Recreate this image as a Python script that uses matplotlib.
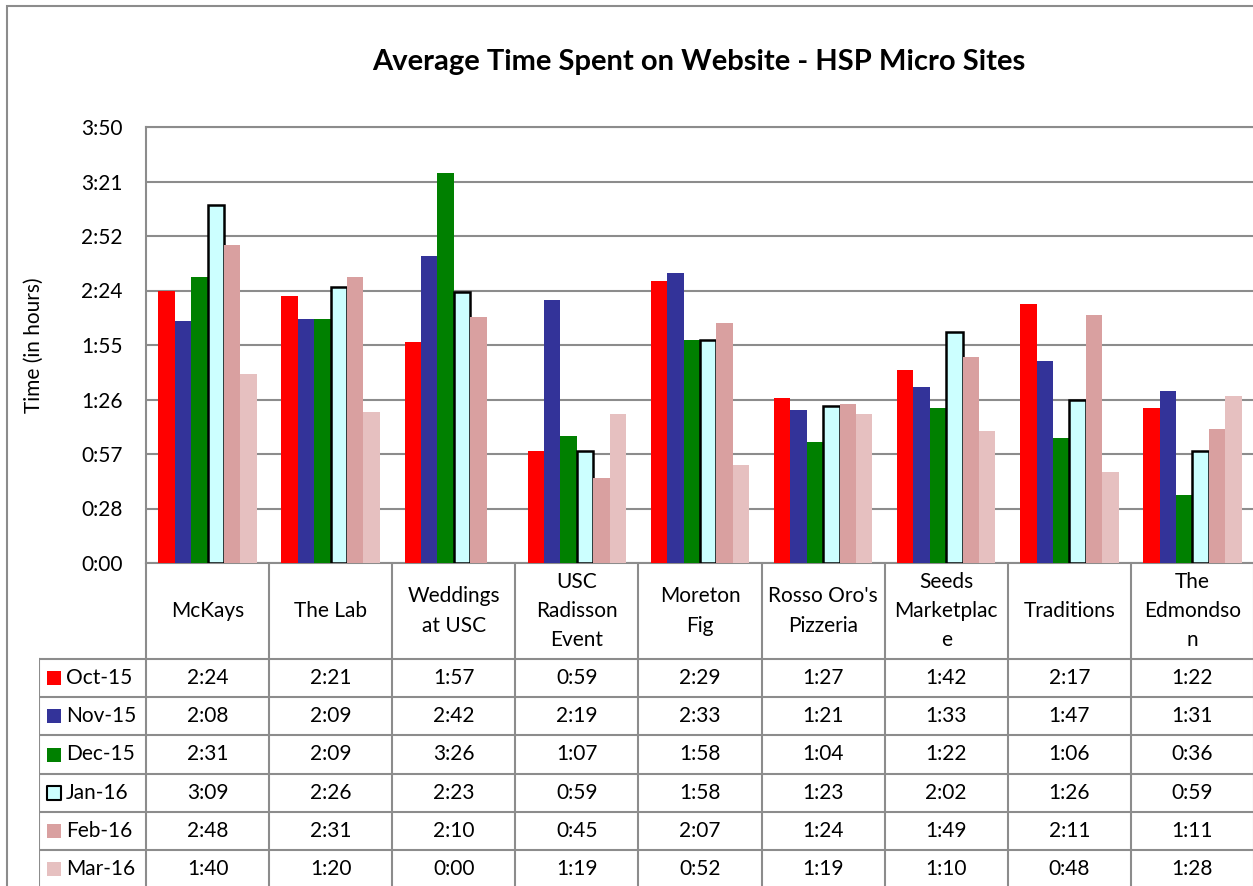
import matplotlib
matplotlib.use('Agg')
import matplotlib.pyplot as plt
from matplotlib.patches import Rectangle
import numpy as np

plt.rcParams['font.family'] = ['Lato', 'DejaVu Sans']

sites = ["McKays", "The Lab", "Weddings\nat USC", "USC\nRadisson\nEvent", "Moreton\nFig",
         "Rosso Oro's\nPizzeria", "Seeds\nMarketplac\ne", "Traditions", "The\nEdmondso\nn"]
months = ["Oct-15", "Nov-15", "Dec-15", "Jan-16", "Feb-16", "Mar-16"]

oct15 = ["2:24", "2:21", "1:57", "0:59", "2:29", "1:27", "1:42", "2:17", "1:22"]
nov15 = ["2:08", "2:09", "2:42", "2:19", "2:33", "1:21", "1:33", "1:47", "1:31"]
dec15 = ["2:31", "2:09", "3:26", "1:07", "1:58", "1:04", "1:22", "1:06", "0:36"]
jan16 = ["3:09", "2:26", "2:23", "0:59", "1:58", "1:23", "2:02", "1:26", "0:59"]
feb16 = ["2:48", "2:31", "2:10", "0:45", "2:07", "1:24", "1:49", "2:11", "1:11"]
mar16 = ["1:40", "1:20", "0:00", "1:19", "0:52", "1:19", "1:10", "0:48", "1:28"]
series = [oct15, nov15, dec15, jan16, feb16, mar16]

colors = ["#FF0000", "#333399", "#008000", "#CCFFFF", "#D9A0A0", "#E6C0C0"]
edges = [None, None, None, "black", None, None]


def to_min(s):
    h, m = s.split(":")
    return int(h) * 60 + int(m)


def fmt(v):
    v = v + 1e-6
    return "%d:%02d" % (int(v // 60), int(v % 60))


W, H = 1253, 886
fig = plt.figure(figsize=(W / 100, H / 100), dpi=100)
grid_c = "#8C8C8C"
fs = 15

# outer chart border (left and top edges visible)
fig.add_artist(Rectangle((7 / W, -0.5), 2, 0.5 + 1 - 6 / H, transform=fig.transFigure,
                         fill=False, edgecolor="#8C8C8C", lw=1.5))

x_left, x_right, y_top, y_axis = 146, 1254, 127, 563
ax = fig.add_axes([x_left / W, 1 - y_axis / H, (x_right - x_left) / W, (y_axis - y_top) / H])

n = len(sites)
x = np.arange(n)
bw = 0.8 / len(series)
for j, s in enumerate(series):
    vals = [to_min(v) for v in s]
    if edges[j]:
        kw = dict(edgecolor=edges[j], linewidth=1.8)
    else:
        kw = dict(linewidth=0)
    ax.bar(x + (j - 2.5) * bw, vals, bw, color=colors[j], zorder=3, **kw)

step = 0.02 * 1440
ticks = [step * k for k in range(9)]
ax.set_ylim(0, ticks[-1])
ax.set_xlim(-0.5, n - 0.5)
ax.set_yticks(ticks)
ax.set_yticklabels([fmt(t) for t in ticks], fontsize=fs)
ax.set_xticks([])
ax.tick_params(axis='y', length=0, pad=17)
ax.yaxis.grid(True, color=grid_c, lw=1.5, zorder=0)
for side in ['left', 'bottom', 'top']:
    ax.spines[side].set_color(grid_c)
    ax.spines[side].set_linewidth(1.5)
ax.spines['right'].set_visible(False)

# data table below the plot
row_px = 38.2
head = 96 / row_px
tab_left = 39
cat_px = (x_right - x_left) / n
tx = fig.add_axes([tab_left / W, 0, (x_right - tab_left) / W, (H - y_axis) / H])
tx.set_xlim(-0.5 - (x_left - tab_left) / cat_px, n - 0.5)
bottom = (H - y_axis) / row_px
tx.set_ylim(bottom, 0)
tx.axis('off')
lx0 = tx.get_xlim()[0]

for k in range(n + 1):
    tx.plot([k - 0.5, k - 0.5], [0, bottom], color=grid_c, lw=1.5)
tx.plot([lx0, lx0], [head, bottom], color=grid_c, lw=1.5)
for i in range(len(months) + 1):
    tx.plot([lx0, n - 0.5], [head + i, head + i], color=grid_c, lw=1.5)

for k, name in enumerate(sites):
    tx.text(k, head / 2, name, ha='center', va='center', fontsize=fs, linespacing=1.58)

for i, (m, s) in enumerate(zip(months, series)):
    yc = head + i + 0.5
    tx.scatter([lx0 + 15 / cat_px], [yc], marker='s', s=100, color=colors[i],
               edgecolors=edges[i] if edges[i] else colors[i], linewidths=1.5 if edges[i] else 0)
    tx.text(lx0 + 27 / cat_px, yc, m, ha='left', va='center', fontsize=fs)
    for k, v in enumerate(s):
        tx.text(k, yc, v, ha='center', va='center', fontsize=fs)

fig.text(699 / W, 1 - 62 / H, "Average Time Spent on Website - HSP Micro Sites",
         ha='center', va='center', fontsize=21, fontweight='bold')
fig.text(34 / W, 1 - 345 / H, "Time (in hours)", ha='center', va='center',
         rotation=90, fontsize=fs)

fig.savefig("out.png", dpi=100)
